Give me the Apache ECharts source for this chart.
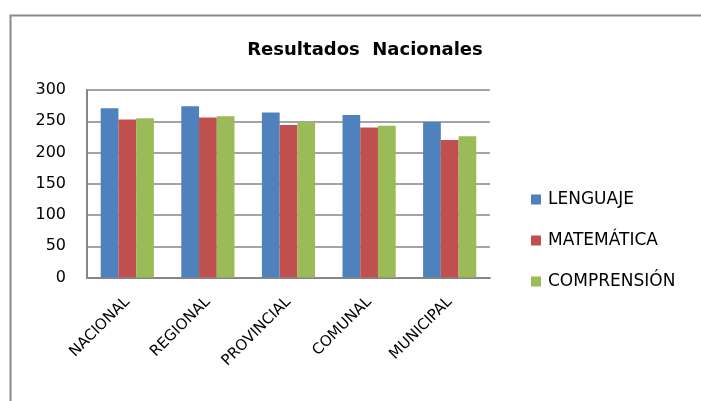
<!DOCTYPE html>
<html><head><meta charset="utf-8">
<script src="https://cdn.jsdelivr.net/npm/echarts@6/dist/echarts.min.js"></script>
<style>html,body{margin:0;padding:0;background:#fff}#c{width:701px;height:401px}</style>
</head><body><div id="c"></div>
<script>
const categories = ['NACIONAL', 'REGIONAL', 'PROVINCIAL', 'COMUNAL', 'MUNICIPAL'];
const lenguaje = [271, 274, 264, 260, 249];
const matematica = [253, 256, 244, 240, 220];
const comprension = [255, 258, 249, 243, 226];
const yTicks = [0, 50, 100, 150, 200, 250, 300];
const seriesNames = ['LENGUAJE', 'MATEMÁTICA', 'COMPRENSIÓN'];
const colors = ['#4F81BD', '#C0504D', '#9BBB59'];

const chart = echarts.init(document.getElementById('c'));
const font = 'DejaVu Sans';
chart.setOption({
  animation: false,
  color: colors,
  title: {
    text: 'Resultados  Nacionales',
    left: 360, top: 36, textAlign: 'center',
    textStyle: {fontFamily: font, fontSize: 18, fontWeight: 'bold', color: '#000'}
  },
  graphic: [{
    type: 'rect', left: 8, top: 13, z: -1,
    shape: {width: 800, height: 500},
    style: {fill: 'none', stroke: '#8a8a8a', lineWidth: 2}
  }],
  legend: {
    orient: 'vertical', left: 526, top: 186,
    itemWidth: 10, itemHeight: 10, itemGap: 24,
    icon: 'rect',
    textStyle: {fontFamily: font, fontSize: 17, color: '#000', padding: [0, 0, 0, 2]},
    data: seriesNames
  },
  grid: {left: 87, right: 211, top: 90, bottom: 123.5, containLabel: false},
  xAxis: {
    type: 'category', data: categories,
    axisLine: {lineStyle: {color: '#868686', width: 2}},
    axisTick: {show: false},
    axisLabel: {rotate: 45, fontFamily: font, fontSize: 15, color: '#000', margin: 22, interval: 0}
  },
  yAxis: {
    type: 'value', min: yTicks[0], max: yTicks[yTicks.length - 1], interval: 50,
    axisLine: {show: true, lineStyle: {color: '#868686', width: 2}},
    axisTick: {show: false},
    splitLine: {lineStyle: {color: '#868686', width: 1.5}},
    axisLabel: {fontFamily: font, fontSize: 16, color: '#000', margin: 21}
  },
  series: [
    {name: seriesNames[0], type: 'bar', data: lenguaje, barGap: '0%', barCategoryGap: '34%'},
    {name: seriesNames[1], type: 'bar', data: matematica, barGap: '0%', barCategoryGap: '34%'},
    {name: seriesNames[2], type: 'bar', data: comprension, barGap: '0%', barCategoryGap: '34%'}
  ]
});
</script></body></html>
